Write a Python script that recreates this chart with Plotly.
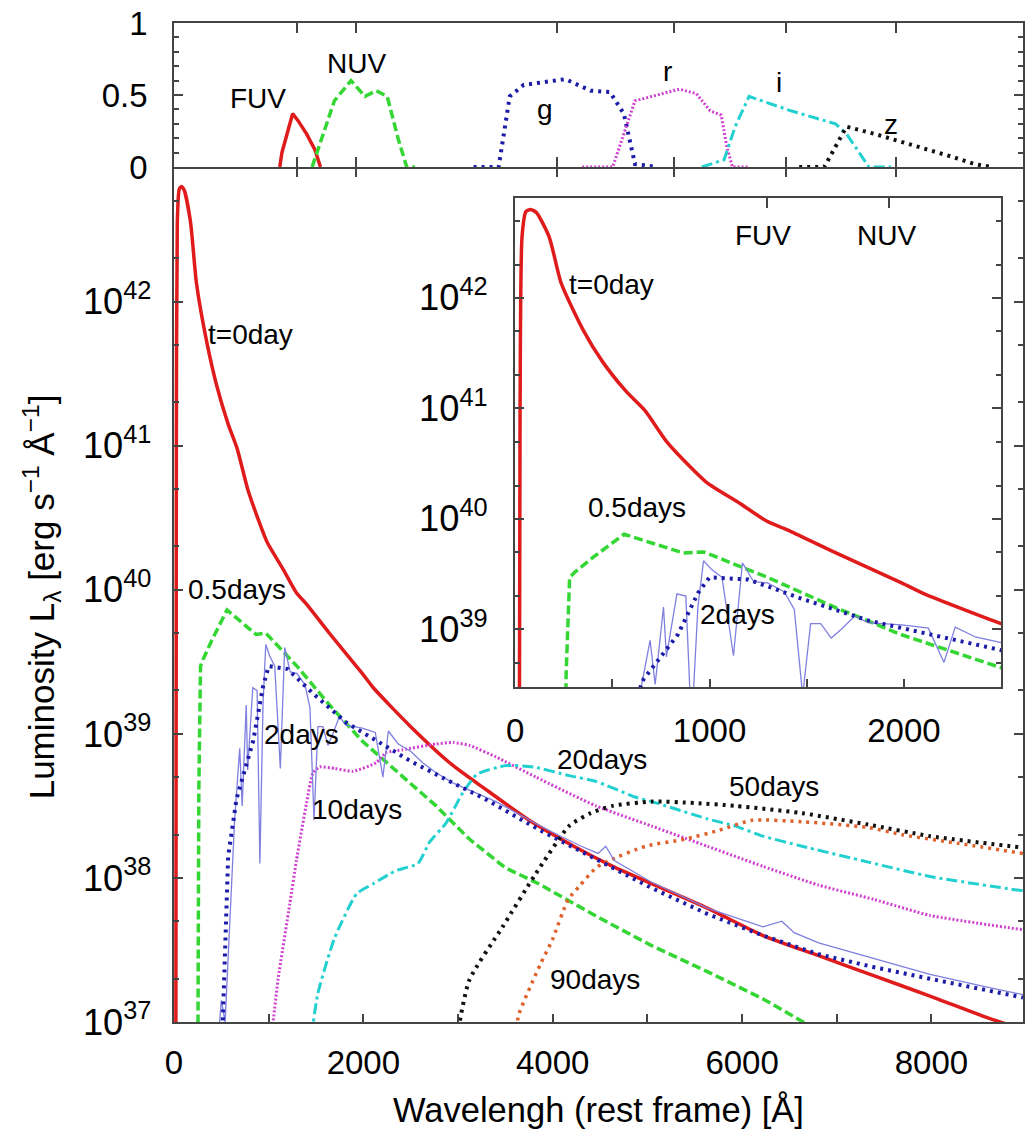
import numpy as np
import plotly.graph_objects as go

# ---------------- data (wavelength in Angstrom, luminosity as log10) ----------------
red_x = [20, 25, 35, 55, 80, 110, 175, 237, 349, 450, 572, 667, 778, 900, 984, 1155, 1293, 1400,
         1639, 1988, 2105, 2500, 2929, 3281, 3752, 4222, 4634, 5045, 5633, 6221, 6809, 7397, 7985, 8632, 8967]
red_y = [36.9, 41.0, 42.55, 42.78, 42.80, 42.77, 42.55, 42.13, 41.71, 41.42, 41.15, 40.98, 40.70, 40.47, 40.33,
         40.14, 39.98, 39.90, 39.70, 39.42, 39.32, 39.05, 38.79, 38.62, 38.40, 38.22, 38.08, 37.96, 37.79,
         37.60, 37.46, 37.32, 37.18, 37.02, 36.95]

green_x = [253, 262, 280, 309, 400, 560, 866, 969, 1298, 1643, 1988, 2500, 2768, 3119, 3500, 3850,
           4500, 5045, 5633, 6221, 6640, 6700]
green_y = [36.9, 38.6, 39.47, 39.52, 39.65, 39.86, 39.69, 39.70, 39.47, 39.20, 38.95, 38.65, 38.50, 38.27,
           38.07, 37.96, 37.72, 37.53, 37.35, 37.16, 37.0, 36.98]

blue_x = [510, 530, 572, 661, 836, 941, 1000, 1200, 1469, 1815, 2160, 2500, 2943, 3281, 3869, 4457,
          5045, 5633, 6221, 6809, 7397, 7985, 8967]
blue_y = [36.9, 37.3, 38.15, 38.55, 38.95, 39.33, 39.47, 39.45, 39.28, 39.08, 38.94, 38.81, 38.66, 38.55,
          38.33, 38.13, 37.93, 37.75, 37.60, 37.47, 37.38, 37.30, 37.17]

obs_x = [470, 500, 540, 600, 640, 694, 720, 763, 778, 832, 878, 907, 940, 969, 1011, 1064, 1123, 1169,
         1227, 1298, 1384, 1436, 1479, 1520, 1572, 1626, 1678, 1747, 1815, 1902, 1988, 2126, 2206, 2264,
         2368, 2500, 2627, 2768, 2944, 3120, 3400, 3900, 4300, 4480, 4560, 4650, 5045, 5633, 6221, 6420,
         6550, 6809, 7397, 7985, 8600, 8967]
obs_y = [36.9, 37.15, 37.0, 37.8, 38.4, 38.90, 38.5, 39.20, 38.75, 39.32, 39.30, 38.10, 39.2, 39.62, 39.54,
         39.47, 38.76, 39.60, 39.43, 39.42, 39.34, 39.18, 38.40, 39.05, 39.05, 38.92, 39.00, 39.12, 39.06,
         39.05, 39.04, 39.01, 38.70, 39.02, 38.93, 38.88, 38.80, 38.73, 38.66, 38.61, 38.53, 38.35, 38.22,
         38.17, 38.22, 38.12, 37.97, 37.79, 37.66, 37.70, 37.62, 37.55, 37.44, 37.33, 37.24, 37.19]

mag_x = [1030, 1100, 1223, 1293, 1400, 1468, 1540, 1700, 1890, 2136, 2241, 2417, 2768, 2950, 3119, 3400,
         3822, 4457, 5045, 5633, 6221, 6809, 7397, 7985, 8967]
mag_y = [36.9, 37.3, 37.82, 38.12, 38.52, 38.73, 38.77, 38.76, 38.74, 38.80, 38.87, 38.89, 38.93, 38.94,
         38.92, 38.84, 38.70, 38.50, 38.36, 38.22, 38.08, 37.95, 37.85, 37.74, 37.64]

cyan_x = [1450, 1520, 1694, 1929, 2105, 2341, 2576, 2700, 2873, 3049, 3200, 3506, 3800, 4173, 4457, 4876,
          5045, 5633, 5929, 6221, 6632, 7334, 7985, 8967]
cyan_y = [36.9, 37.2, 37.58, 37.89, 37.96, 38.05, 38.10, 38.25, 38.38, 38.59, 38.72, 38.78, 38.77, 38.71,
          38.67, 38.56, 38.53, 38.41, 38.36, 38.29, 38.22, 38.11, 38.01, 37.91]

black_x = [2990, 3119, 3470, 3822, 4173, 4400, 4630, 5050, 5500, 5929, 6630, 7334, 7985, 8967]
black_y = [36.9, 37.29, 37.66, 38.03, 38.36, 38.45, 38.50, 38.53, 38.52, 38.50, 38.45, 38.37, 38.29, 38.21]

orange_x = [3600, 3646, 3869, 3996, 4163, 4278, 4457, 4594, 4981, 5402, 5753, 6104, 6632, 7334, 7691, 8279, 8967]
orange_y = [36.9, 37.06, 37.40, 37.57, 37.85, 37.94, 38.07, 38.12, 38.22, 38.27, 38.33, 38.40, 38.39, 38.35,
            38.30, 38.24, 38.17]

# filter transmission curves (top panel)
fuv_x = [1117, 1140, 1165, 1253, 1312, 1400, 1488, 1547]
fuv_y = [0.0, 0.10, 0.16, 0.37, 0.32, 0.23, 0.12, 0.0]
nuv_x = [1459, 1576, 1694, 1870, 2017, 2135, 2252, 2370, 2458, 2546]
nuv_y = [0.0, 0.23, 0.46, 0.60, 0.49, 0.53, 0.49, 0.19, 0.0, 0.0]
g_x = [3164, 3429, 3546, 3693, 4134, 4399, 4605, 4751, 4869, 5104]
g_y = [0.0, 0.0, 0.49, 0.57, 0.61, 0.53, 0.52, 0.37, 0.02, 0.0]
r_x = [4311, 4634, 4751, 4869, 5045, 5339, 5516, 5663, 5780, 5839, 5898, 6074]
r_y = [0.0, 0.0, 0.23, 0.46, 0.49, 0.54, 0.51, 0.39, 0.36, 0.14, 0.0, 0.0]
i_x = [5574, 5810, 5927, 6074, 6515, 6986, 7103, 7339, 7574]
i_y = [0.0, 0.05, 0.28, 0.49, 0.39, 0.30, 0.23, 0.0, 0.0]
z_x = [6603, 6868, 6986, 7103, 7397, 7867, 8220, 8456, 8632]
z_y = [0.0, 0.0, 0.14, 0.28, 0.23, 0.14, 0.07, 0.02, 0.0]

filter_centers = [1295, 1925, 4040, 5280, 6460, 7630]
uv_centers = [1295, 1925]

# ---------------- styles ----------------
RED, GREEN, BLUE, OBS = "#e01b1b", "#33d633", "#1c1ca8", "#7f7fe0"
MAG, CYAN, BLACK, ORANGE = "#d040d0", "#22d0d0", "#111111", "#e0602a"
FONT = "Liberation Sans, Arial, Helvetica, sans-serif"
AX = "#444444"

series = [
    (red_x, red_y, dict(color=RED, width=3.5, shape="spline", smoothing=0.6)),
    (green_x, green_y, dict(color=GREEN, width=3.5, dash="9px,4px")),
    (mag_x, mag_y, dict(color=MAG, width=3, dash="2px,2px", shape="spline", smoothing=0.5)),
    (cyan_x, cyan_y, dict(color=CYAN, width=3, dash="11px,4px,3px,4px", shape="spline", smoothing=0.5)),
    (black_x, black_y, dict(color=BLACK, width=4, dash="3px,5px", shape="spline", smoothing=0.6)),
    (orange_x, orange_y, dict(color=ORANGE, width=3.5, dash="3px,5px", shape="spline", smoothing=0.6)),
    (obs_x, obs_y, dict(color=OBS, width=1.3)),
    (blue_x, blue_y, dict(color=BLUE, width=4, dash="3px,5px")),
]

fig = go.Figure()
for xs, ys, ln in series:
    fig.add_trace(go.Scatter(x=xs, y=np.power(10.0, ys), mode="lines", line=ln,
                             xaxis="x", yaxis="y", hoverinfo="skip", showlegend=False))
# inset uses same spectra (only the early ones are visible there)
for xs, ys, ln in [series[0], series[1], series[6], series[7]]:
    fig.add_trace(go.Scatter(x=xs, y=np.power(10.0, ys), mode="lines", line=ln,
                             xaxis="x3", yaxis="y3", hoverinfo="skip", showlegend=False))

bands = [
    (fuv_x, fuv_y, dict(color=RED, width=3.5)),
    (nuv_x, nuv_y, dict(color=GREEN, width=3.5, dash="9px,4px")),
    (g_x, g_y, dict(color=BLUE, width=4, dash="3px,5px")),
    (r_x, r_y, dict(color=MAG, width=3, dash="2px,2px")),
    (i_x, i_y, dict(color=CYAN, width=3, dash="11px,4px,3px,4px")),
    (z_x, z_y, dict(color=BLACK, width=4, dash="3px,5px")),
]
for xs, ys, ln in bands:
    fig.add_trace(go.Scatter(x=xs, y=ys, mode="lines", line=ln, xaxis="x2", yaxis="y2",
                             hoverinfo="skip", showlegend=False))

# empty traces so the overlay (top-tick) axes get created
fig.add_trace(go.Scatter(x=[None], y=[None], xaxis="x4", yaxis="y", showlegend=False, hoverinfo="skip"))
fig.add_trace(go.Scatter(x=[None], y=[None], xaxis="x5", yaxis="y3", showlegend=False, hoverinfo="skip"))

XMAX = 8967
SPLIT = 0.8559
XTICKF = dict(family=FONT, size=33, color="black")
YTICKF = dict(family=FONT, size=29, color="black")
common = dict(showgrid=False, zeroline=False, linecolor=AX, linewidth=1.5, tickcolor=AX,
              tickwidth=1.5, showline=True)

fig.update_layout(
    width=1025, height=1132,
    margin=dict(l=174, r=0, t=23, b=110),
    paper_bgcolor="white", plot_bgcolor="white",
    font=dict(family=FONT, color="black"),
    showlegend=False,
    xaxis=dict(domain=[0, 1], anchor="y", range=[0, XMAX], tick0=0, dtick=2000,
               ticks="inside", ticklen=8, minor=dict(dtick=1000, ticks="inside", ticklen=8, tickcolor=AX),
               tickfont=XTICKF, ticklabelstandoff=11, **common),
    yaxis=dict(domain=[0, SPLIT], anchor="x", type="log", range=[37, 42.935], dtick=1,
               exponentformat="power", ticks="inside", ticklen=9, mirror="ticks",
               minor=dict(dtick="D2", ticks="inside", ticklen=5, tickcolor=AX),
               tickfont=YTICKF, ticklabelstandoff=15, **common),
    xaxis2=dict(domain=[0, 1], anchor="y2", range=[0, XMAX], tickvals=filter_centers,
                ticks="inside", ticklen=10, showticklabels=False, mirror="ticks", **common),
    yaxis2=dict(domain=[SPLIT, 1], anchor="x2", range=[0, 1], tickvals=[0, 0.5, 1],
                ticktext=["0", "0.5", "1"], ticks="inside", ticklen=9, mirror="ticks",
                minor=dict(dtick=0.1, ticks="inside", ticklen=5, tickcolor=AX),
                tickfont=XTICKF, ticklabelstandoff=18, **common),
    xaxis4=dict(overlaying="x", anchor="y", side="top", range=[0, XMAX], tickvals=filter_centers,
                ticks="inside", ticklen=10, showticklabels=False, showline=False, showgrid=False,
                zeroline=False, tickcolor=AX, tickwidth=1.5),
    xaxis3=dict(domain=[0.4019, 0.9742], anchor="y3", range=[0, 2500], tickvals=[0, 1000, 2000],
                ticks="inside", ticklen=8, minor=dict(dtick=500, ticks="inside", ticklen=8, tickcolor=AX),
                tickfont=XTICKF, ticklabelstandoff=14, **common),
    xaxis5=dict(overlaying="x3", anchor="y3", side="top", range=[0, 2500], tickvals=uv_centers,
                ticks="inside", ticklen=10, showticklabels=False, showgrid=False, zeroline=False,
                showline=True, linecolor=AX, linewidth=1.5, tickcolor=AX, tickwidth=1.5),
    yaxis3=dict(domain=[0.3353, 0.8248], anchor="x3", type="log", range=[38.477, 42.903], dtick=1,
                exponentformat="power", ticks="inside", ticklen=9, mirror="ticks",
                minor=dict(dtick="D2", ticks="inside", ticklen=5, tickcolor=AX),
                tickfont=YTICKF, ticklabelstandoff=20, **common),
)

LBL = dict(family=FONT, size=28, color="black")
ann = []
for txt, x, y in [("t=0day", 806, 41.769), ("0.5days", 669, 39.999), ("2days", 1343, 38.993),
                  ("10days", 1934, 38.472), ("20days", 4520, 38.819), ("50days", 6333, 38.638),
                  ("90days", 4447, 37.292)]:
    ann.append(dict(text=txt, x=x, y=y, xref="x", yref="y", showarrow=False, font=LBL))
for txt, x, y in [("FUV", 885, 0.479), ("NUV", 1928, 0.722), ("g", 3920, 0.396), ("r", 5216, 0.66),
                  ("i", 6392, 0.59), ("z", 7568, 0.292)]:
    ann.append(dict(text=txt, x=x, y=y, xref="x2", yref="y2", showarrow=False, font=LBL))
for txt, x, y in [("t=0day", 493, 42.116), ("0.5days", 629, 40.098), ("2days", 1142, 39.129),
                  ("FUV", 1273, 42.568), ("NUV", 1910, 42.568)]:
    ann.append(dict(text=txt, x=x, y=y, xref="x3", yref="y3", showarrow=False, font=LBL))

ann.append(dict(text="Wavelengh (rest frame) [Å]", x=0.5, y=(1022 - 1110) / 999, xref="paper", yref="paper",
                xanchor="center", yanchor="middle", showarrow=False,
                font=dict(family=FONT, size=34.5, color="black")))
ann.append(dict(text="Luminosity L<sub>λ</sub> [erg s<sup>−1</sup> Å<sup>−1</sup>]", textangle=-90,
                x=(42 - 174) / 851, y=(1022 - 597) / 999, xref="paper", yref="paper",
                xanchor="center", yanchor="middle", showarrow=False,
                font=dict(family=FONT, size=35, color="black")))
fig.update_layout(annotations=ann)

fig.write_html("out.html")
